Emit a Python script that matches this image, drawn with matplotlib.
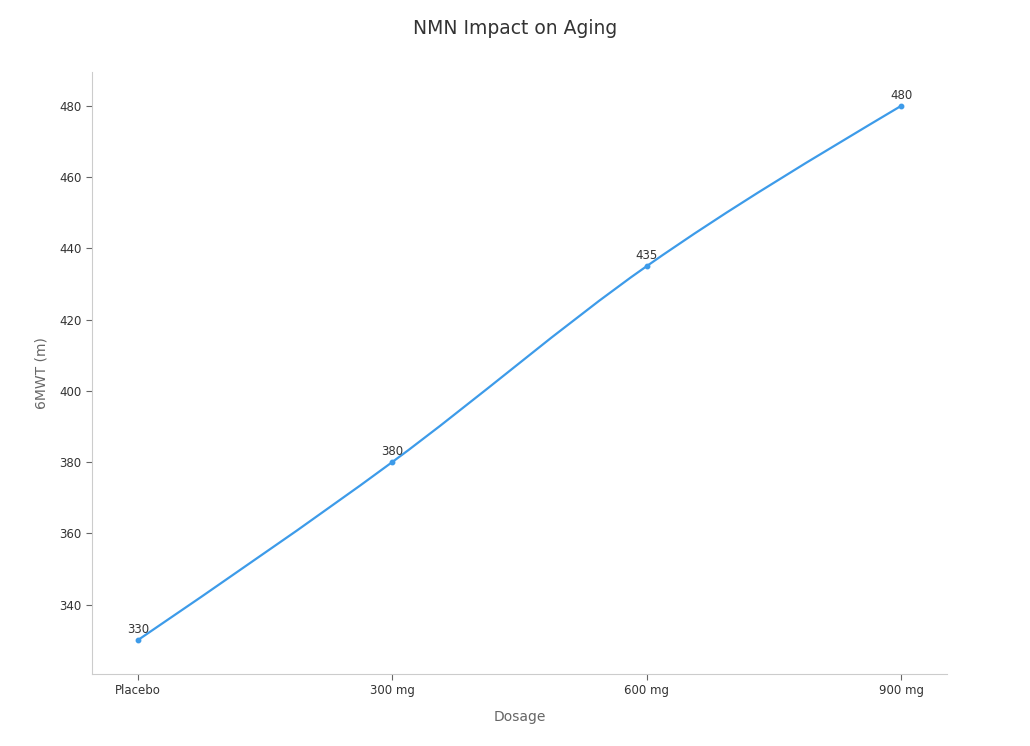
import numpy as np
import matplotlib.pyplot as plt
from matplotlib.path import Path
from matplotlib.patches import PathPatch

# data
dosage = ["Placebo", "300 mg", "600 mg", "900 mg"]
walk_m = [330, 380, 435, 480]

LINE = "#3d9be9"


def monotone_path(xs, ys):
    # monotone cubic (d3 curveMonotoneX style) drawn as bezier segments
    xs = np.asarray(xs, float)
    ys = np.asarray(ys, float)
    h = np.diff(xs)
    d = np.diff(ys) / h
    m = np.zeros_like(ys)
    for i in range(1, len(xs) - 1):
        if d[i - 1] * d[i] > 0:
            p = (d[i - 1] * h[i] + d[i] * h[i - 1]) / (h[i - 1] + h[i])
            m[i] = np.sign(p) * min(2 * abs(d[i - 1]), 2 * abs(d[i]), abs(p))
    m[0] = (3 * d[0] - m[1]) / 2
    m[-1] = (3 * d[-1] - m[-2]) / 2
    verts = [(xs[0], ys[0])]
    codes = [Path.MOVETO]
    for i in range(len(xs) - 1):
        dx = h[i] / 3
        verts += [(xs[i] + dx, ys[i] + m[i] * dx),
                  (xs[i + 1] - dx, ys[i + 1] - m[i + 1] * dx),
                  (xs[i + 1], ys[i + 1])]
        codes += [Path.CURVE4] * 3
    return Path(verts, codes)


fig = plt.figure(figsize=(10.3, 7.46), dpi=100)
ax = fig.add_axes([92 / 1030, 1 - 674 / 746, (947 - 92) / 1030, (674 - 72) / 746])

x = np.arange(len(dosage))
ax.add_patch(PathPatch(monotone_path(x, walk_m), facecolor="none",
                       edgecolor=LINE, lw=1.6))
ax.plot(x, walk_m, "o", color=LINE, ms=3.2)

for xi, v in zip(x, walk_m):
    ax.annotate(str(v), (xi, v), xytext=(0, 3), textcoords="offset points",
                ha="center", va="bottom", fontsize=8.5, color="#333333")

ax.set_xlim(-0.18, 3.18)
ax.set_ylim(320.5, 489.5)
ax.set_xticks(x)
ax.set_xticklabels(dosage)
ax.set_yticks(range(340, 481, 20))

for s in ["top", "right"]:
    ax.spines[s].set_visible(False)
for s in ["left", "bottom"]:
    ax.spines[s].set_color("#cccccc")
ax.tick_params(labelcolor="#333333", color="#666666", labelsize=8.5, length=4, width=0.8)

ax.set_xlabel("Dosage", fontsize=10, color="#666666", labelpad=9)
ax.set_ylabel("6MWT (m)", fontsize=10, color="#666666", labelpad=8)
fig.suptitle("NMN Impact on Aging", fontsize=13.5, color="#333333", y=1 - 28 / 746, va="center")

fig.savefig("out.png", dpi=100)
